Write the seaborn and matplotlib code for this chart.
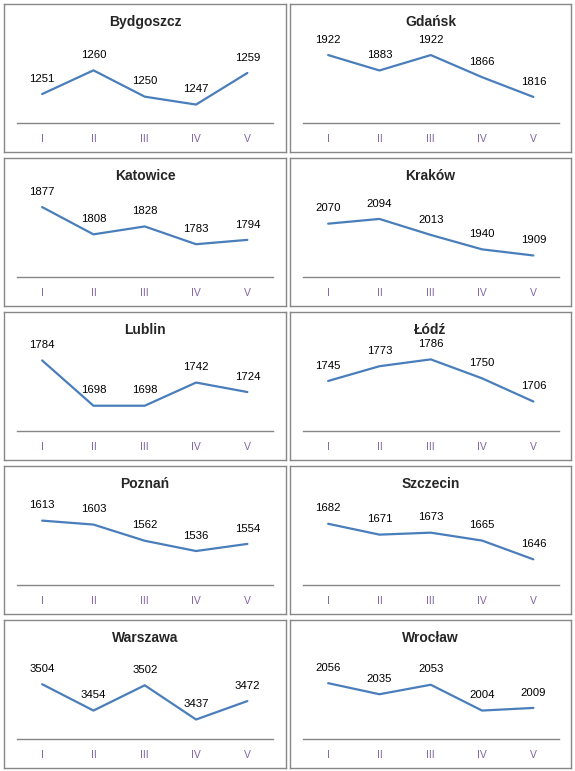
import matplotlib
matplotlib.use("Agg")
import matplotlib.pyplot as plt
import seaborn as sns
import pandas as pd

quarters = ["I", "II", "III", "IV", "V"]
cities = ["Bydgoszcz", "Gdańsk", "Katowice", "Kraków", "Lublin",
          "Łódź", "Poznań", "Szczecin", "Warszawa", "Wrocław"]

bydgoszcz = [1251, 1260, 1250, 1247, 1259]
gdansk = [1922, 1883, 1922, 1866, 1816]
katowice = [1877, 1808, 1828, 1783, 1794]
krakow = [2070, 2094, 2013, 1940, 1909]
lublin = [1784, 1698, 1698, 1742, 1724]
lodz = [1745, 1773, 1786, 1750, 1706]
poznan = [1613, 1603, 1562, 1536, 1554]
szczecin = [1682, 1671, 1673, 1665, 1646]
warszawa = [3504, 3454, 3502, 3437, 3472]
wroclaw = [2056, 2035, 2053, 2004, 2009]

series = [bydgoszcz, gdansk, katowice, krakow, lublin,
          lodz, poznan, szczecin, warszawa, wroclaw]

# axis ranges as the spreadsheet picked them
y_ranges = [(1240, 1270), (1750, 1950), (1700, 1900), (1800, 2200), (1650, 1800),
            (1650, 1800), (1450, 1650), (1620, 1700), (3400, 3550), (1950, 2100)]

sns.set_style("white")
plt.rcParams["font.family"] = ["Liberation Sans", "DejaVu Sans"]

W, H = 575, 771
fig = plt.figure(figsize=(W / 100, H / 100), dpi=100)

col_x = [4, 290]
col_w = [282, 281]
row_y = [4, 158, 312, 466, 620]
panel_h = 148

line_color = "#4A7EBB"
tick_color = "#8064A2"
border_color = "#878787"


def rect(x, y, w, h):
    return [x / W, 1 - (y + h) / H, w / W, h / H]


for i, city in enumerate(cities):
    r, c = divmod(i, 2)
    px, py, pw = col_x[c], row_y[r], col_w[c]

    box = fig.add_axes(rect(px, py, pw, panel_h))
    box.set_xticks([])
    box.set_yticks([])
    box.set_facecolor("white")
    for s in box.spines.values():
        s.set_color(border_color)
        s.set_linewidth(1)
    box.text(0.5, 1 - 18 / panel_h, city, transform=box.transAxes,
             ha="center", va="center", fontsize=10, fontweight="bold")

    ax = fig.add_axes(rect(px + 12.5, py + 40, 256.5, 79))
    ax.patch.set_alpha(0)
    df = pd.DataFrame({"q": quarters, "v": series[i]})
    sns.lineplot(data=df, x="q", y="v", ax=ax, color=line_color, linewidth=1.6,
                 sort=False)
    for j, v in enumerate(series[i]):
        ax.annotate(str(v), (j, v), xytext=(0, 11), textcoords="offset points",
                    ha="center", va="center", fontsize=8.2, color="black")
    ax.set_xlim(-0.5, 4.5)
    ax.set_ylim(*y_ranges[i])
    ax.set_xlabel("")
    ax.set_ylabel("")
    ax.set_yticks([])
    ax.tick_params(axis="x", length=0, pad=8, labelsize=7.5, labelcolor=tick_color)
    for s in ["top", "left", "right"]:
        ax.spines[s].set_visible(False)
    ax.spines["bottom"].set_color("#868686")
    ax.spines["bottom"].set_linewidth(1)

fig.savefig("out.png", dpi=100, facecolor="white")
